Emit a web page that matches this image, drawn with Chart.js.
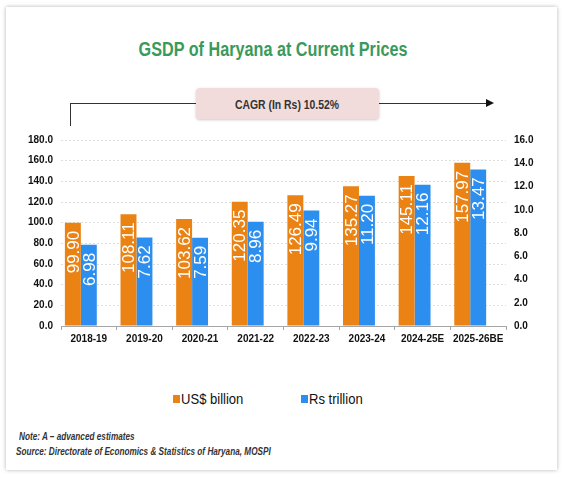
<!DOCTYPE html>
<html>
<head>
<meta charset="utf-8">
<script src="https://cdn.jsdelivr.net/npm/chart.js@4.4.1/dist/chart.umd.min.js"></script>
<style>
  body { margin: 0; background: #fff; font-family: "Liberation Sans", Arial, sans-serif; }
  #card { position: absolute; left: 6px; top: 7px; width: 551px; height: 463px; background: #fff;
    box-shadow: 0 0 4px rgba(0,0,0,0.3); }
  .abs { position: absolute; }
  #title { left: 73px; top: 39px; width: 400px; text-align: center; color: #3a9a5b; line-height: 20px;
    font-weight: bold; font-size: 20px; transform: scaleX(0.81); }
  #cagr { left: 196px; top: 88px; width: 183px; height: 31px; background: #f2dcdb; border-radius: 4px;
    box-shadow: 0 1px 3px rgba(0,0,0,0.22); text-align: center; line-height: 31px; }
  #cagr span { display: inline-block; font-weight: bold; font-size: 13px; color: #333; transform: scaleX(0.8); }
  .line { position: absolute; background: #333; }
  #arrowhead { left: 486px; top: 99px; width: 0; height: 0;
    border-top: 4px solid transparent; border-bottom: 4px solid transparent; border-left: 8px solid #111; }
  #wrap { position: absolute; left: 0; top: 126px; width: 563px; height: 226px; }
  .note { position: absolute; font-size: 10px; line-height: 12px; font-weight: bold; font-style: italic;
    color: #333; white-space: nowrap; transform-origin: left center; transform: scaleX(0.82); }
  .leg { position: absolute; top: 391px; height: 16px; white-space: nowrap; }
  .leg i { position: absolute; left: 0; top: 4px; width: 7px; height: 8px; }
  .leg span { position: absolute; left: 8px; top: 0; font-size: 15px; line-height: 16px; color: #111;
    transform-origin: left center; transform: scaleX(0.87); }
</style>
</head>
<body>
<div id="card"></div>
<div id="title" class="abs">GSDP of Haryana at Current Prices</div>
<div class="line" style="left:70px; top:103px; width:126px; height:1px;"></div>
<div class="line" style="left:379px; top:103px; width:108px; height:1px;"></div>
<div class="line" style="left:70px; top:103px; width:1px; height:23px;"></div>
<div id="arrowhead" class="abs"></div>
<div id="cagr" class="abs"><span>CAGR (In Rs) 10.52%</span></div>
<div id="wrap"><canvas id="gsdpChart"></canvas></div>
<div id="legend"></div>
<div class="note" style="left:19px; top:431px;">Note: A &ndash; advanced estimates</div>
<div class="note" style="left:16px; top:446px;">Source: Directorate of Economics &amp; Statistics of Haryana, MOSPI</div>
<script>
const years = ["2018-19", "2019-20", "2020-21", "2021-22", "2022-23", "2023-24", "2024-25E", "2025-26BE"];
const usdBillion = [99.90, 108.11, 103.62, 120.35, 126.49, 135.27, 145.11, 157.97];
const rsTrillion = [6.98, 7.62, 7.59, 8.96, 9.94, 11.20, 12.16, 13.47];
const seriesNames = ["US$ billion", "Rs trillion"];
const seriesColors = ["#ea8313", "#2c8ff0"];
// empty third slot, so the bar pair sits left of the category centre like the source
const spacer = years.map(() => null);

// white rotated value labels inside the top of each bar
const barLabels = {
  id: "barLabels",
  afterDatasetsDraw(chart) {
    const ctx = chart.ctx;
    chart.data.datasets.forEach((ds, i) => {
      chart.getDatasetMeta(i).data.forEach((bar, j) => {
        if (ds.data[j] == null) return;
        ctx.save();
        ctx.translate(bar.x + 1, bar.y + 8);
        ctx.rotate(-Math.PI / 2);
        ctx.fillStyle = "#fff";
        ctx.font = "17px 'Liberation Sans', Arial, sans-serif";
        ctx.textAlign = "right";
        ctx.textBaseline = "middle";
        ctx.fillText(ds.data[j].toFixed(2), 0, 0);
        ctx.restore();
      });
    });
  }
};

const tickFont = { family: "'Liberation Sans', Arial, sans-serif", size: 10, weight: "bold" };

const ctx = document.getElementById("gsdpChart");

const gsdpChart = new Chart(ctx, {
  type: "bar",
  data: {
    labels: years,
    datasets: [
      {
        label: seriesNames[0],
        data: usdBillion,
        backgroundColor: seriesColors[0],
        yAxisID: "y",
        barPercentage: 1.0,
        categoryPercentage: 0.86
      },
      {
        label: seriesNames[1],
        data: rsTrillion,
        backgroundColor: seriesColors[1],
        yAxisID: "y1",
        barPercentage: 1.0,
        categoryPercentage: 0.86
      },
      {
        label: "",
        data: spacer,
        yAxisID: "y",
        barPercentage: 1.0,
        categoryPercentage: 0.86
      }
    ]
  },
  options: {
    responsive: true,
    maintainAspectRatio: false,
    animation: false,
    layout: {
      padding: { left: 0, right: 0, top: 6, bottom: 0 }
    },
    plugins: {
      legend: { display: false },
      tooltip: { enabled: false }
    },
    scales: {
      x: {
        ticks: { color: "#111", font: tickFont, maxRotation: 0, autoSkip: false, padding: 3 },
        grid: { drawOnChartArea: false, tickLength: 4, color: "#a6a6a6" },
        border: { color: "#a6a6a6" },
        afterFit: s => { s.height = 26; }
      },
      y: {
        position: "left",
        min: 0,
        max: 180,
        ticks: { stepSize: 20, color: "#111", font: tickFont, padding: 8, callback: v => v.toFixed(1) },
        grid: { color: "#dedede", tickLength: 0 },
        border: { display: false, dash: [2, 2] },
        afterFit: s => { s.width = 61; }
      },
      y1: {
        position: "right",
        min: 0,
        max: 16,
        ticks: { stepSize: 2, color: "#111", font: tickFont, padding: 8, callback: v => v.toFixed(1) },
        grid: { drawOnChartArea: false, tickLength: 0 },
        border: { display: false },
        afterFit: s => { s.width = 57; }
      }
    }
  },
  plugins: [barLabels]
});

// legend boxes built from the two real series
const legendX = [173, 301];
document.getElementById("legend").innerHTML = gsdpChart.data.datasets.slice(0, 2).map((ds, i) =>
  `<div class="leg" style="left:${legendX[i]}px"><i style="background:${ds.backgroundColor}"></i><span>${ds.label}</span></div>`
).join("");
</script>
</body>
</html>
